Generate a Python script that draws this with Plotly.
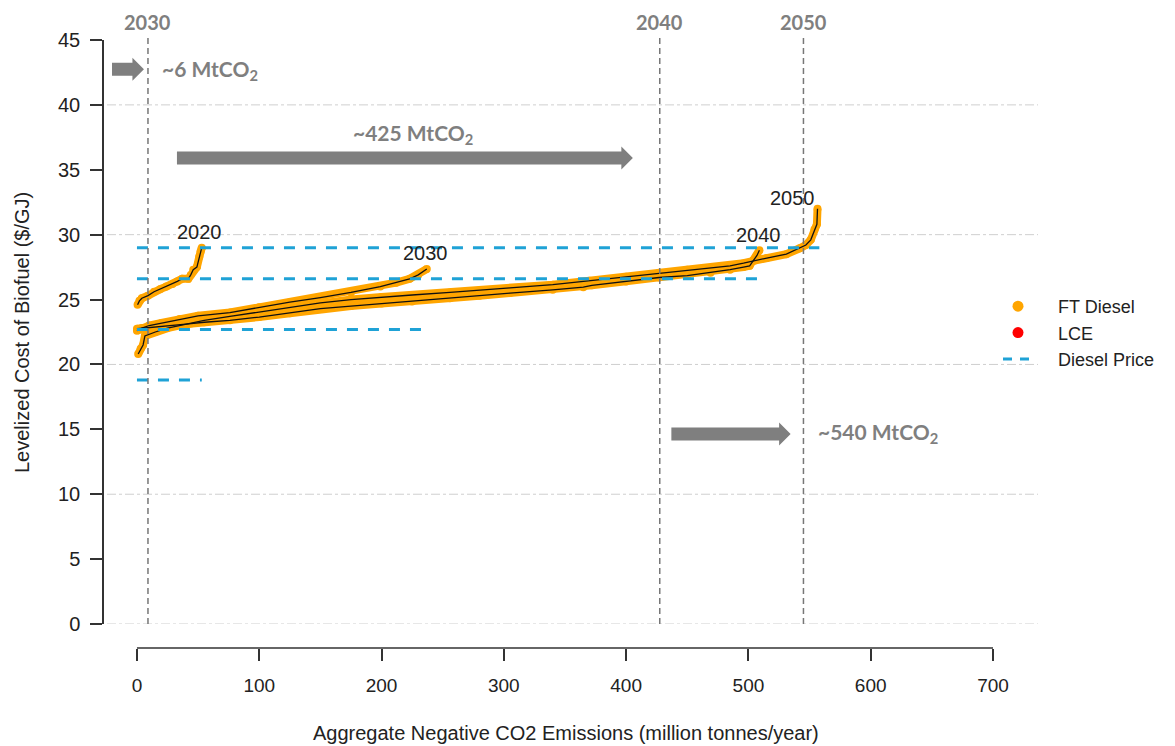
import plotly.graph_objects as go

# ---------------- data ----------------
X_2020 = [0.5, 2, 4, 9, 14, 19, 24, 29, 33, 37, 42, 44, 46, 49, 51, 52, 53]
Y_2020 = [24.6, 24.9, 25.1, 25.3, 25.6, 25.8, 26.0, 26.2, 26.4, 26.6, 26.6, 26.9, 27.3, 27.5, 28.3, 28.7, 29.0]

X_2030 = [0, 4, 10, 20, 35, 50, 76, 100, 125, 150, 175, 199, 212, 223, 230, 237]
Y_2030 = [22.6, 22.8, 23.0, 23.2, 23.5, 23.75, 24.0, 24.4, 24.8, 25.15, 25.55, 26.0, 26.3, 26.6, 26.9, 27.35]

X_2040 = [0, 6, 15, 25, 40, 55, 76, 100, 125, 150, 175, 200, 225, 256, 280, 305, 340, 365, 372,
          400, 427, 450, 469, 485, 496, 501, 504, 507, 509]
Y_2040 = [22.75, 22.8, 22.85, 22.95, 23.1, 23.25, 23.4, 23.65, 23.95, 24.3, 24.5, 24.7, 24.85, 25.1,
          25.3, 25.5, 25.75, 25.95, 26.1, 26.4, 26.7, 26.85, 27.07, 27.3, 27.5, 27.6, 28.0, 28.4, 28.8]

X_2050 = [1, 3, 5, 6.5, 9, 15, 25, 40, 55, 76, 100, 125, 150, 175, 200, 225, 256, 280, 305, 340,
          370, 400, 427, 450, 469, 485, 496, 505, 515, 531, 542, 547, 551, 554, 556, 556.5]
Y_2050 = [20.8, 21.2, 21.5, 22.2, 22.3, 22.5, 22.8, 23.1, 23.4, 23.7, 24.05, 24.4, 24.75, 25.0, 25.2,
          25.35, 25.55, 25.7, 25.9, 26.15, 26.45, 26.75, 27.07, 27.3, 27.45, 27.6, 27.8, 28.0, 28.2,
          28.5, 28.95, 29.2, 29.6, 30.4, 30.8, 32.0]

CURVE_YEARS = ["2020", "2030", "2040", "2050"]
CURVE_X = [X_2020, X_2030, X_2040, X_2050]
CURVE_Y = [Y_2020, Y_2030, Y_2040, Y_2050]
CURVE_LABEL_X = [51, 236, 508, 536]
CURVE_LABEL_Y = [30.2, 28.6, 30.0, 32.8]

DIESEL_PRICE = [18.8, 22.7, 26.6, 29.0]
DIESEL_X_END = [53, 240, 509, 558]

MILESTONE_YEARS = ["2030", "2040", "2050"]
MILESTONE_X = [9, 427.5, 545]

ARROW_X0 = [-20.4, 32.7, 437.0]
ARROW_X1 = [5.7, 405.5, 534.5]
ARROW_Y = [42.75, 35.9, 14.65]
ARROW_TEXT = ["~6 MtCO<sub>2</sub>", "~425 MtCO<sub>2</sub>", "~540 MtCO<sub>2</sub>"]
ARROW_TEXT_X = [18.8, 175.0, 555.0]
ARROW_TEXT_Y = [42.7, 37.75, 14.7]

X_TICKS = [0, 100, 200, 300, 400, 500, 600, 700]
Y_TICKS = [0, 5, 10, 15, 20, 25, 30, 35, 40, 45]
Y_GRID = [0, 10, 20, 30, 40]

LEGEND_NAMES = ["FT Diesel", "LCE", "Diesel Price"]

# ---------------- layout constants ----------------
W, H = 1175, 746
OFF = 8                          # page body margin of the html page
PX_L, PX_R = 107, 1038          # x-domain in screen pixels
PY_T, PY_B = 40, 624            # y-domain in screen pixels
X_RANGE = [-24.5, 736.8]
Y_RANGE = [0, 45]
Y_AXIS_PX = 103
X_AXIS_PY = 648

def px(x):
    return (x - OFF) / W

def py(y):
    return 1 - (y - OFF) / H

XS = (PX_R - PX_L) / (X_RANGE[1] - X_RANGE[0])   # px per unit
YS = (PY_B - PY_T) / (Y_RANGE[1] - Y_RANGE[0])

ORANGE = "#FFA500"
CYAN = "#1FA2D6"
GREY = "#7F7F7F"
FONT = "Liberation Sans, Arial, sans-serif"
BOLD_FONT = "Lato, Open Sans, sans-serif"
PAD = "\u00a0\u00a0\u00a0\u00a0"

fig = go.Figure()

# orange bands + black lines for each year
for xs, ys in zip(CURVE_X, CURVE_Y):
    fig.add_trace(go.Scatter(x=xs, y=ys, mode="lines+markers",
                             line=dict(color=ORANGE, width=8),
                             marker=dict(color=ORANGE, size=8),
                             showlegend=False, hoverinfo="skip"))
for xs, ys in zip(CURVE_X, CURVE_Y):
    fig.add_trace(go.Scatter(x=xs, y=ys, mode="lines",
                             line=dict(color="#111111", width=1.3),
                             showlegend=False, hoverinfo="skip"))

# diesel price lines
for p, xe in zip(DIESEL_PRICE, DIESEL_X_END):
    fig.add_trace(go.Scatter(x=[0, xe], y=[p, p], mode="lines",
                             line=dict(color=CYAN, width=3, dash="11px,10px"),
                             showlegend=False, hoverinfo="skip"))

# legend entries
fig.add_trace(go.Scatter(x=[None], y=[None], mode="markers", name=PAD + LEGEND_NAMES[0],
                         marker=dict(color=ORANGE, size=11)))
fig.add_trace(go.Scatter(x=[None], y=[None], mode="markers", name=PAD + LEGEND_NAMES[1],
                         marker=dict(color="#FF0000", size=11)))
fig.add_trace(go.Scatter(x=[None], y=[None], mode="lines", name=PAD + LEGEND_NAMES[2],
                         line=dict(color=CYAN, width=3, dash="9px,8px")))

shapes = []
# gridlines
for g in Y_GRID:
    shapes.append(dict(type="line", xref="x domain", yref="y", x0=0, x1=1, y0=g, y1=g,
                       line=dict(color="#CFCFCF", width=1, dash="dashdot"), layer="below"))
# x axis line (0..700)
shapes.append(dict(type="line", xref="x", yref="paper", x0=X_TICKS[0], x1=X_TICKS[-1],
                   y0=py(X_AXIS_PY), y1=py(X_AXIS_PY), line=dict(color="#333333", width=1.5)))
# milestone vertical lines
for mx in MILESTONE_X:
    shapes.append(dict(type="line", xref="x", yref="paper", x0=mx, x1=mx,
                       y0=py(PY_B), y1=py(34), line=dict(color="#777777", width=1.5, dash="6px,4px")))
# arrows
BODY_H, HEAD_H, HEAD_L = 6.5, 11.5, 11.5
for x0, x1, y in zip(ARROW_X0, ARROW_X1, ARROW_Y):
    hl = HEAD_L / XS
    bh = BODY_H / YS
    hh = HEAD_H / YS
    xb = x1 - hl
    path = (f"M {x0},{y - bh} L {xb},{y - bh} L {xb},{y - hh} L {x1},{y} "
            f"L {xb},{y + hh} L {xb},{y + bh} L {x0},{y + bh} Z")
    shapes.append(dict(type="path", xref="x", yref="y", path=path,
                       fillcolor=GREY, line=dict(width=0)))

annotations = []
for yr, mx in zip(MILESTONE_YEARS, MILESTONE_X):
    annotations.append(dict(x=mx, y=py(22), xref="x", yref="paper", xanchor="center",
                            yanchor="middle", text=f"<b>{yr}</b>", showarrow=False,
                            font=dict(family=BOLD_FONT, size=20, color=GREY)))
for t, tx, ty in zip(ARROW_TEXT, ARROW_TEXT_X, ARROW_TEXT_Y):
    annotations.append(dict(x=tx, y=ty, xref="x", yref="y", text=f"<b>{t}</b>", xanchor="left",
                            yanchor="middle", showarrow=False,
                            font=dict(family=BOLD_FONT, size=21, color=GREY)))
for yr, lx, ly in zip(CURVE_YEARS, CURVE_LABEL_X, CURVE_LABEL_Y):
    annotations.append(dict(x=lx, y=ly, xref="x", yref="y", text=yr, showarrow=False,
                            xanchor="center", yanchor="middle",
                            font=dict(family=FONT, size=20, color="#222222")))
# axis titles
annotations.append(dict(x=px(22), y=py(333), xref="paper", yref="paper", textangle=-90,
                        xanchor="center", yanchor="middle",
                        text="Levelized Cost of Biofuel ($/GJ)", showarrow=False,
                        font=dict(family=FONT, size=20, color="#222222")))
annotations.append(dict(x=px(566), y=py(733), xref="paper", yref="paper",
                        xanchor="center", yanchor="middle",
                        text="Aggregate Negative CO2 Emissions (million tonnes/year)", showarrow=False,
                        font=dict(family=FONT, size=20, color="#222222")))

fig.update_layout(
    width=W, height=H,
    margin=dict(l=0, r=0, t=0, b=0, autoexpand=False),
    paper_bgcolor="white", plot_bgcolor="white",
    xaxis=dict(domain=[px(PX_L), px(PX_R)], range=X_RANGE, anchor="free", position=py(X_AXIS_PY),
               tickvals=X_TICKS, ticks="outside", ticklen=12, tickwidth=1.5, tickcolor="#333333",
               showgrid=False, zeroline=False, showline=False, ticklabelstandoff=8,
               automargin=False,
               tickfont=dict(family=FONT, size=19, color="#222222")),
    yaxis=dict(domain=[py(PY_B), py(PY_T)], range=Y_RANGE, anchor="free", position=px(Y_AXIS_PX),
               tickvals=Y_TICKS, ticks="outside", ticklen=12, tickwidth=1.5, tickcolor="#333333",
               showline=True, linecolor="#333333", linewidth=1.5,
               showgrid=False, zeroline=False, ticklabelstandoff=6, automargin=False,
               tickfont=dict(family=FONT, size=20, color="#222222")),
    shapes=shapes,
    annotations=annotations,
    legend=dict(x=px(998), y=py(288), xanchor="left", yanchor="top",
                font=dict(family=FONT, size=18, color="#222222"),
                bgcolor="rgba(0,0,0,0)", tracegroupgap=0, itemwidth=30),
    showlegend=True,
)

fig.write_html("out.html")
